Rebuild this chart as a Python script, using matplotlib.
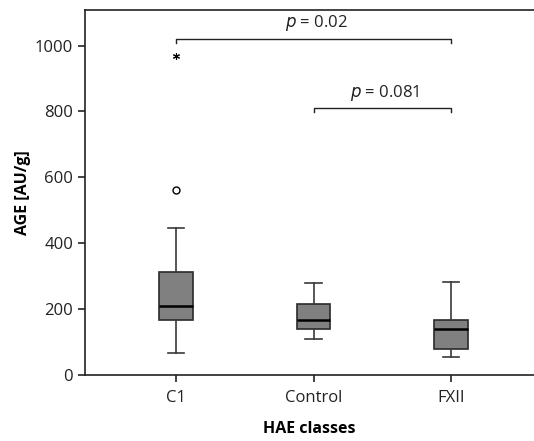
import numpy as np
import matplotlib
matplotlib.use('Agg')
import matplotlib.pyplot as plt

plt.rcParams['font.family'] = ['Open Sans', 'DejaVu Sans']

# box values
groups = ['C1', 'Control', 'FXII']
whislo = [65, 107, 55]
q1 = [167, 140, 78]
med = [208, 165, 138]
q3 = [312, 215, 166]
whishi = [447, 279, 281]
outliers = [[561], [], []]
extremes = [[967], [], []]

# significance brackets: (left group, right group, height, text)
brackets = [(0, 2, 1020, '0.02'), (1, 2, 809, '0.081')]

fig = plt.figure(figsize=(5.34, 4.41), dpi=100)
ax = fig.add_axes([85 / 534, 1 - 374.7 / 441, 448.5 / 534, 364.7 / 441])

pos = np.arange(1, len(groups) + 1)
stats = []
for i, g in enumerate(groups):
    stats.append(dict(label=g, whislo=whislo[i], q1=q1[i], med=med[i],
                      q3=q3[i], whishi=whishi[i], fliers=outliers[i]))

ax.bxp(stats, positions=pos, widths=0.246, patch_artist=True,
       boxprops=dict(facecolor='#808080', edgecolor='#2a2a2a', linewidth=1.2),
       medianprops=dict(color='black', linewidth=1.8),
       whiskerprops=dict(color='#3a3a3a', linewidth=1.2),
       capprops=dict(color='#3a3a3a', linewidth=1.2),
       capwidths=0.121,
       flierprops=dict(marker='o', markerfacecolor='white',
                       markeredgecolor='black', markersize=5, markeredgewidth=1))

for i, vals in enumerate(extremes):
    for v in vals:
        ax.plot(pos[i], v, marker=(6, 2, 0), color='black', markersize=5,
                markeredgewidth=0.8)

for a, b, h, txt in brackets:
    ax.plot([pos[a], pos[a], pos[b], pos[b]], [h - 12, h, h, h - 12],
            color='#222222', linewidth=1)
    ax.text((pos[a] + pos[b]) / 2 + 0.02, h + 48, '$p$ = ' + txt, ha='center',
            va='center', fontsize=12, color='#222222')

ax.set_xlim(0.338, 3.6)
ax.set_ylim(0, 1108)
ax.set_yticks([0, 200, 400, 600, 800, 1000])
ax.set_xticks(pos)
ax.set_xticklabels(groups)
ax.tick_params(labelsize=12, colors='#222222', length=5, width=1.2)
ax.tick_params(axis='x', pad=6)
ax.spines['right'].set_visible(False)
for s in ['left', 'bottom', 'top']:
    ax.spines[s].set_color('#222222')
    ax.spines[s].set_linewidth(1.2)

ax.set_ylabel('AGE [AU/g]', fontsize=11.5, fontweight='bold', labelpad=3)
ax.set_xlabel('HAE classes', fontsize=11.5, fontweight='bold', labelpad=11)

fig.savefig('out.png', dpi=100)
